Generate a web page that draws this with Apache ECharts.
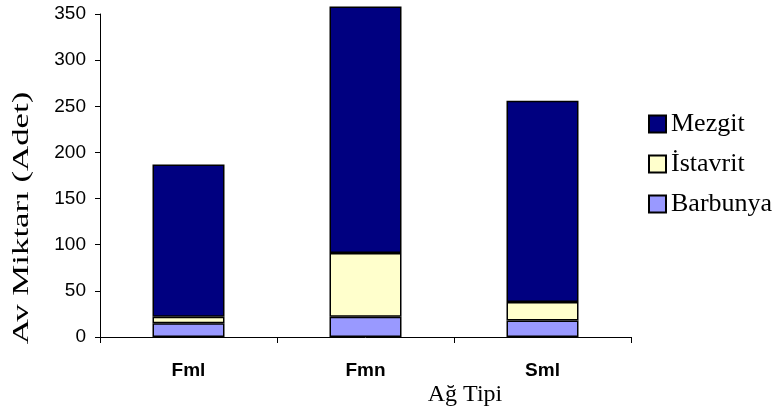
<!DOCTYPE html>
<html>
<head>
<meta charset="utf-8">
<script src="https://cdn.jsdelivr.net/npm/echarts@6/dist/echarts.min.js"></script>
<style>html,body{margin:0;padding:0;background:#fff;}#c{width:774px;height:415px;}</style>
</head>
<body>
<div id="c"></div>
<script>
var categories = ['Fml', 'Fmn', 'Sml'];
var barbunya = [15, 22, 18];
var istavrit = [7, 69, 20];
var mezgit = [165, 267, 218];
var yTicks = [0, 50, 100, 150, 200, 250, 300, 350];

var chart = echarts.init(document.getElementById('c'), null, {renderer: 'canvas'});
var serif = 'Liberation Serif, Times New Roman, serif';
var sans = 'Liberation Sans, Arial, sans-serif';
function barSeries(name, data, color) {
  return {
    name: name, type: 'bar', stack: 'total', data: data, barWidth: 72, clip: false,
    itemStyle: {color: color, borderColor: '#000', borderWidth: 1.5},
    emphasis: {disabled: true}
  };
}
chart.setOption({
  animation: false,
  grid: {left: 100, top: 14, right: 143, bottom: 78},
  xAxis: {
    type: 'category', data: categories,
    axisLine: {lineStyle: {color: '#000', width: 1}},
    axisTick: {show: true, length: 6, lineStyle: {color: '#000'}},
    axisLabel: {color: '#000', fontFamily: sans, fontWeight: 'bold', fontSize: 19, margin: 24}
  },
  yAxis: {
    type: 'value', min: yTicks[0], max: yTicks[yTicks.length - 1], interval: 50,
    splitLine: {show: false},
    axisLine: {show: true, lineStyle: {color: '#000', width: 1}},
    axisTick: {show: true, length: 5, lineStyle: {color: '#000'}},
    axisLabel: {color: '#000', fontFamily: sans, fontSize: 19, margin: 14}
  },
  legend: {
    orient: 'vertical', left: 643, top: 106,
    data: ['Mezgit', 'İstavrit', 'Barbunya'],
    itemWidth: 17, itemHeight: 17, itemGap: 14,
    icon: 'rect',
    itemStyle: {borderColor: '#000', borderWidth: 2},
    textStyle: {fontFamily: serif, fontSize: 26, color: '#000', lineHeight: 26, padding: [0, 0, 0, 0]},
    selectedMode: false
  },
  graphic: [
    {type: 'text', x: 465, y: 395,
     style: {text: 'Ağ Tipi', font: '24px ' + serif, fill: '#000', textAlign: 'center', textVerticalAlign: 'middle'}},
    {type: 'text', x: 22, y: 218, rotation: Math.PI / 2, scaleX: 1.45,
     style: {text: 'Av Miktarı (Adet)', font: '24px ' + serif, fill: '#000', textAlign: 'center', textVerticalAlign: 'middle'}}
  ],
  series: [
    barSeries('Barbunya', barbunya, '#9999FF'),
    barSeries('İstavrit', istavrit, '#FFFFCC'),
    barSeries('Mezgit', mezgit, '#000080')
  ]
});
</script>
</body>
</html>
